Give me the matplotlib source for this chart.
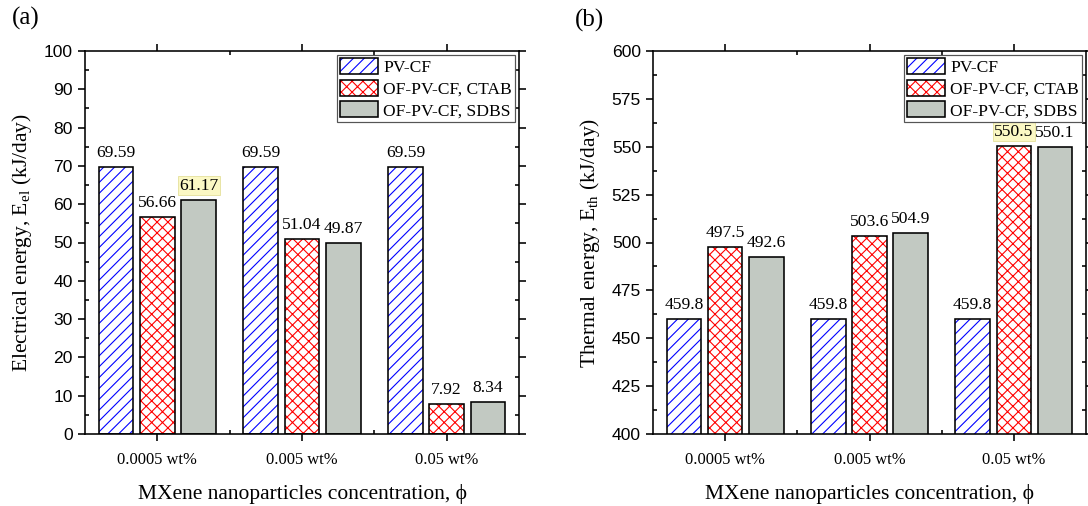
import matplotlib.pyplot as plt
from matplotlib.patches import Patch
from matplotlib.ticker import MultipleLocator, FixedLocator

# values
groups = ['0.0005 wt%', '0.005 wt%', '0.05 wt%']
series = ['PV-CF', 'OF-PV-CF, CTAB', 'OF-PV-CF, SDBS']

el_pv = [69.59, 69.59, 69.59]
el_ctab = [56.66, 51.04, 7.92]
el_sdbs = [61.17, 49.87, 8.34]

th_pv = [459.8, 459.8, 459.8]
th_ctab = [497.5, 503.6, 550.5]
th_sdbs = [492.6, 504.9, 550.1]

DPI = 130          # hatch tile grows with dpi -> ~11 px hatch spacing


def pt(px):
    return px * 72.0 / DPI


SERIF = ['Liberation Serif', 'DejaVu Serif']
SANS = ['Liberation Sans', 'DejaVu Sans']
plt.rcParams['font.family'] = SERIF
plt.rcParams['mathtext.fontset'] = 'custom'
plt.rcParams['mathtext.rm'] = 'Liberation Serif'
plt.rcParams['hatch.linewidth'] = pt(1.1)

GRAY = '#c2c9c2'
W, H = 1088, 506
fig = plt.figure(figsize=(W / DPI, H / DPI), dpi=DPI)

ax1 = fig.add_axes([85 / W, 1 - 434 / H, 434 / W, 383 / H])
ax2 = fig.add_axes([653 / W, 1 - 434 / H, 433 / W, 383 / H])

x = [1, 2, 3]
off, bw = 0.285, 0.24
lw = pt(1.6)


def fmt(v, nd):
    return ('{:.%df}' % nd).format(v)


def draw(ax, pv, ctab, sdbs, ylim, major, minor, ylabel, nd, hl):
    sets = [
        (pv, -off, dict(facecolor='white', edgecolor='blue', hatch='////')),
        (ctab, 0, dict(facecolor='white', edgecolor='red', hatch='xxxx')),
        (sdbs, off, dict(facecolor=GRAY, edgecolor=GRAY)),
    ]
    for si, (vals, dx, style) in enumerate(sets):
        xs = [xi + dx for xi in x]
        ax.bar(xs, vals, bw, linewidth=0, zorder=2, **style)
        ax.bar(xs, vals, bw, fill=False, edgecolor='black', linewidth=lw, zorder=3)
        for gi, (xi, v) in enumerate(zip(xs, vals)):
            kw = {}
            if (si, gi) == hl:
                kw['bbox'] = dict(boxstyle='square,pad=0.08', facecolor='#fbf8c4',
                                  edgecolor='#e6e2a0', linewidth=0.5)
            ax.annotate(fmt(v, nd), (xi, v), xytext=(0, pt(6)),
                        textcoords='offset points', ha='center', va='bottom',
                        fontsize=pt(17.5), zorder=5, **kw)

    ax.set_xlim(0.5, 3.5)
    ax.set_ylim(*ylim)
    ax.xaxis.set_major_locator(FixedLocator(x))
    ax.xaxis.set_minor_locator(FixedLocator([1.5, 2.5]))
    ax.set_xticklabels(groups, fontsize=pt(16.5))
    ax.yaxis.set_major_locator(MultipleLocator(major))
    ax.yaxis.set_minor_locator(MultipleLocator(minor))
    for lab in ax.get_yticklabels():
        lab.set_family(SANS)
        lab.set_fontsize(pt(17.5))
    ax.tick_params(which='major', direction='out', length=pt(7), width=lw,
                   top=True, right=True)
    ax.tick_params(which='minor', direction='in', length=pt(4), width=lw,
                   top=True, right=True)
    ax.tick_params(axis='x', which='major', pad=pt(11))
    ax.tick_params(axis='y', which='major', pad=pt(5))
    for s in ax.spines.values():
        s.set_linewidth(lw)

    ax.set_xlabel('MXene nanoparticles concentration, \u03d5',
                  fontsize=pt(21.5), labelpad=pt(16))
    ax.set_ylabel(ylabel, fontsize=pt(21.5), labelpad=pt(10))

    handles = []
    for vals, dx, style in sets:
        handles.append((Patch(linewidth=0, **style),
                        Patch(fill=False, edgecolor='black', linewidth=lw)))
    leg = ax.legend(handles, series, loc='upper right', fontsize=pt(17.5),
                    handlelength=2.2, handleheight=1.05, handletextpad=0.3,
                    labelspacing=0.2, borderpad=0.15, borderaxespad=0.25,
                    fancybox=False, framealpha=1)
    leg.get_frame().set_edgecolor('#555555')
    leg.get_frame().set_linewidth(pt(1.2))


draw(ax1, el_pv, el_ctab, el_sdbs, (0, 100), 10, 5,
     'Electrical energy, E$_{\\mathrm{el}}$ (kJ/day)', 2, (2, 0))
draw(ax2, th_pv, th_ctab, th_sdbs, (400, 600), 25, 12.5,
     'Thermal energy, E$_{\\mathrm{th}}$ (kJ/day)', 1, (1, 2))

fig.text(12 / W, 1 - 18 / H, '(a)', fontsize=pt(25), va='center', ha='left')
fig.text(575 / W, 1 - 20 / H, '(b)', fontsize=pt(25), va='center', ha='left')

fig.savefig('out.png', dpi=DPI)
